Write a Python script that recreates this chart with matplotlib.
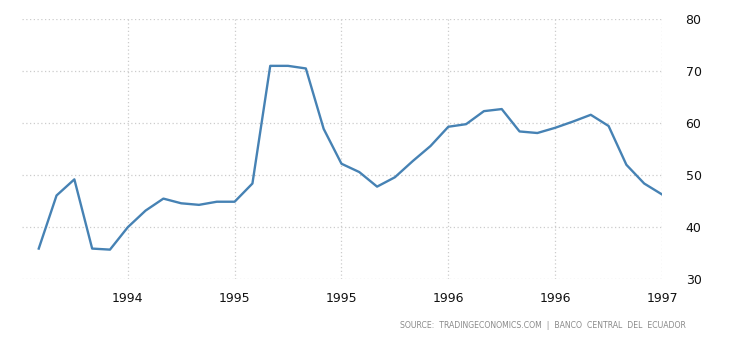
import numpy as np
import matplotlib
matplotlib.use("Agg")
import matplotlib.pyplot as plt

# values, one point per period
values = [35.9, 46.1, 49.2, 35.9, 35.7, 40.0, 43.2, 45.5, 44.6, 44.3,
          44.9, 44.9, 48.4, 71.0, 71.0, 70.5, 58.9, 52.2, 50.6, 47.8,
          49.6, 52.7, 55.6, 59.3, 59.8, 62.3, 62.7, 58.4, 58.1, 59.1,
          60.3, 61.6, 59.45, 52.0, 48.4, 46.3]
tick_idx = [5, 11, 17, 23, 29, 35]
tick_labels = ["1994", "1995", "1995", "1996", "1996", "1997"]
y_ticks = [30, 40, 50, 60, 70, 80]
source = "SOURCE:  TRADINGECONOMICS.COM  |  BANCO  CENTRAL  DEL  ECUADOR"

fig = plt.figure(figsize=(7.3, 3.4), dpi=100)
ax = fig.add_axes([22/730, 1 - 279.3/340, 640/730, 260.3/340])

x = np.arange(len(values))
ax.plot(x, values, color="#4682b4", lw=1.7, solid_joinstyle="round")

ax.set_xlim(-0.94, 35)
ax.set_ylim(30, 80)
ax.set_xticks(tick_idx)
ax.set_xticklabels(tick_labels)
ax.set_yticks(y_ticks)

ax.yaxis.tick_right()
ax.tick_params(axis="both", length=0, labelsize=9, colors="#111111")
ax.tick_params(axis="y", pad=17)
ax.tick_params(axis="x", pad=9)
for s in ax.spines.values():
    s.set_visible(False)
ax.grid(True, color="#cccccc", linestyle=(0, (1, 2)), lw=0.9)
ax.set_axisbelow(True)

fig.text(686/730, 1 - 325/340, source, ha="right", va="center",
         fontsize=5.6, color="#8a8a8a")

fig.savefig("out.png", dpi=100)
